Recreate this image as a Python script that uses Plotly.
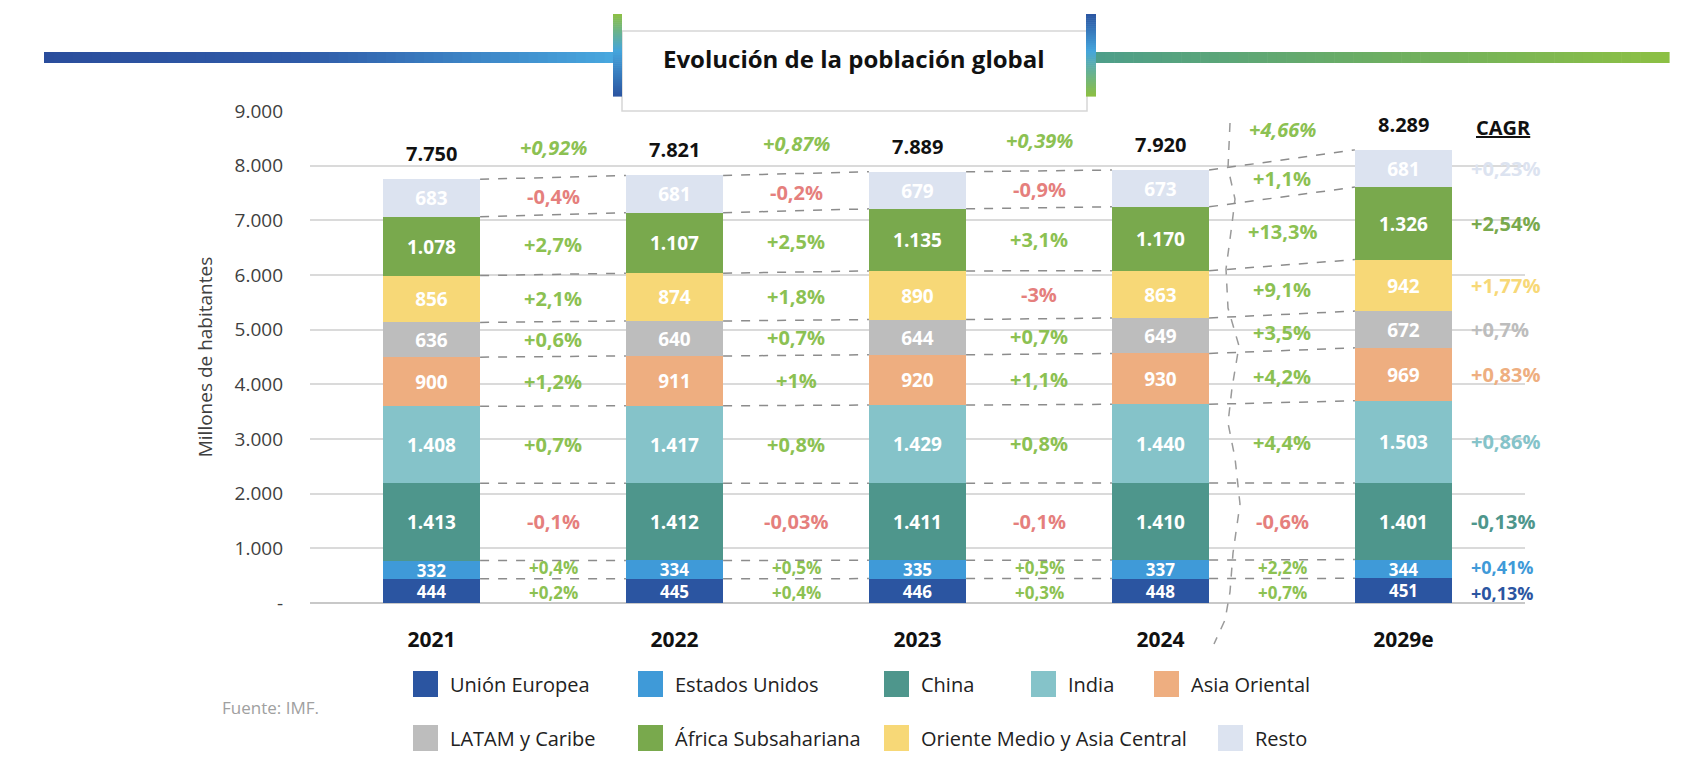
import plotly.graph_objects as go

# ---------------- DATA ----------------
years = ["2021", "2022", "2023", "2024", "2029e"]
series_names = ["Unión Europea", "Estados Unidos", "China", "India", "Asia Oriental",
                "LATAM y Caribe", "África Subsahariana", "Oriente Medio y Asia Central", "Resto"]
ue = [444, 445, 446, 448, 451]
eeuu = [332, 334, 335, 337, 344]
china = [1413, 1412, 1411, 1410, 1401]
india = [1408, 1417, 1429, 1440, 1503]
asia_oriental = [900, 911, 920, 930, 969]
latam = [636, 640, 644, 649, 672]
africa = [1078, 1107, 1135, 1170, 1326]
oriente_medio = [856, 874, 890, 863, 942]
resto = [683, 681, 679, 673, 681]

growth_ue = ["+0,2%", "+0,4%", "+0,3%", "+0,7%"]
growth_eeuu = ["+0,4%", "+0,5%", "+0,5%", "+2,2%"]
growth_china = ["-0,1%", "-0,03%", "-0,1%", "-0,6%"]
growth_india = ["+0,7%", "+0,8%", "+0,8%", "+4,4%"]
growth_asia = ["+1,2%", "+1%", "+1,1%", "+4,2%"]
growth_latam = ["+0,6%", "+0,7%", "+0,7%", "+3,5%"]
growth_africa = ["+2,7%", "+2,5%", "+3,1%", "+13,3%"]
growth_om = ["+2,1%", "+1,8%", "-3%", "+9,1%"]
growth_resto = ["-0,4%", "-0,2%", "-0,9%", "+1,1%"]
growth_total = ["+0,92%", "+0,87%", "+0,39%", "+4,66%"]
cagr_ue, cagr_eeuu, cagr_china, cagr_india = "+0,13%", "+0,41%", "-0,13%", "+0,86%"
cagr_asia, cagr_latam, cagr_africa, cagr_om, cagr_resto = "+0,83%", "+0,7%", "+2,54%", "+1,77%", "+0,23%"

y_tick_vals = [0, 1000, 2000, 3000, 4000, 5000, 6000, 7000, 8000, 9000]
y_tick_labels = ["-", "1.000", "2.000", "3.000", "4.000", "5.000", "6.000", "7.000", "8.000", "9.000"]

title_text = "Evolución de la población global"
y_title = "Millones de habitantes"
source_text = "Fuente: IMF."

# ---------------- STYLE ----------------
col_ue, col_eeuu, col_china, col_india = "#2b55a1", "#3f9ad8", "#4e968c", "#85c3c9"
col_asia, col_latam, col_africa, col_om, col_resto = "#eeae80", "#bdbdbd", "#79a94d", "#f7d877", "#dce3f0"
GREEN = "#8cc152"
RED = "#e57f7d"
FONT = "Open Sans"

# series in stacking order (bottom -> top): name, values, colour, growth, cagr
stack = [
    ("Unión Europea", ue, col_ue, growth_ue, cagr_ue),
    ("Estados Unidos", eeuu, col_eeuu, growth_eeuu, cagr_eeuu),
    ("China", china, col_china, growth_china, cagr_china),
    ("India", india, col_india, growth_india, cagr_india),
    ("Asia Oriental", asia_oriental, col_asia, growth_asia, cagr_asia),
    ("LATAM y Caribe", latam, col_latam, growth_latam, cagr_latam),
    ("Oriente Medio y Asia Central", oriente_medio, col_om, growth_om, cagr_om),
    ("África Subsahariana", africa, col_africa, growth_africa, cagr_africa),
    ("Resto", resto, col_resto, growth_resto, cagr_resto),
]
color_of = {name: c for name, _, c, _, _ in stack}
# thin bottom segments get a slightly smaller font and a small vertical nudge
small_size = {0: 17, 1: 17}
nudge = {0: -2, 1: 2}

W, H = 1706, 783
ML, MR, MT, MB = 302, 189, 103, 188
PW, PH = W - ML - MR, H - MT - MB
BAR_W = 0.4


def pxx(x):
    return (x - ML) / PW


def pxy(y):
    return (H - MB - y) / PH


n = len(years)
xs = list(range(n))

fig = go.Figure()

for s, (name, vals, col, _, _) in enumerate(stack):
    fig.add_trace(go.Bar(
        x=xs, y=vals, name=name, width=BAR_W,
        marker=dict(color=col, line=dict(width=0)),
        texttemplate="%{y:,.0f}", textposition="inside", insidetextanchor="middle",
        textangle=0, textfont=dict(color="white", size=small_size.get(s, 19), family=FONT, weight="bold"),
        showlegend=False, hovertemplate=name + ": %{y:,.0f}<extra></extra>",
    ))

cum = []
for j in range(n):
    c = [0]
    for _, vals, _, _, _ in stack:
        c.append(c[-1] + vals[j])
    cum.append(c)
totals = [c[-1] for c in cum]

for i in range(n - 1):
    lx, ly = [], []
    for k in range(1, len(stack) + 1):
        lx += [i + BAR_W / 2, i + 1 - BAR_W / 2, None]
        ly += [cum[i][k], cum[i + 1][k], None]
    fig.add_trace(go.Scatter(x=lx, y=ly, mode="lines",
                             line=dict(color="#8c8c8c", width=1.5, dash="dash"),
                             hoverinfo="skip", showlegend=False))

ann = []
for i, t in enumerate(totals):
    ann.append(dict(x=i, y=t, text="<b>" + f"{t:,}".replace(",", ".") + "</b>",
                    showarrow=False, yanchor="bottom", yshift=10,
                    font=dict(size=20, color="#111111", family=FONT)))

for s, (_, _, col, glist, _) in enumerate(stack):
    for i, g in enumerate(glist):
        m0 = (cum[i][s] + cum[i][s + 1]) / 2
        m1 = (cum[i + 1][s] + cum[i + 1][s + 1]) / 2
        ann.append(dict(x=i + 0.5, y=(m0 + m1) / 2, text="<b>" + g + "</b>", showarrow=False,
                        yshift=nudge.get(s, 0),
                        font=dict(size=small_size.get(s, 20) if s in small_size else 20,
                                  color=RED if g.startswith("-") else GREEN, family=FONT)))
for i, g in enumerate(growth_total):
    ann.append(dict(x=i + 0.5, y=(totals[i] + totals[i + 1]) / 2, text="<b><i>" + g + "</i></b>",
                    showarrow=False, yshift=30, font=dict(size=20, color=GREEN, family=FONT)))

ann.append(dict(x=n - 1 + 0.29, y=totals[-1], text="<b><u>CAGR</u></b>", showarrow=False,
                xanchor="left", yanchor="middle", yshift=22, font=dict(size=20, color="#111111", family=FONT)))
for s, (_, _, col, _, cg) in enumerate(stack):
    mid = (cum[-1][s] + cum[-1][s + 1]) / 2
    ann.append(dict(x=n - 1 + 0.27, y=mid, text="<b>" + cg + "</b>", showarrow=False,
                    xanchor="left", yanchor="middle", yshift=nudge.get(s, 0),
                    font=dict(size=18 if s in small_size else 20, color=col, family=FONT)))

ann.append(dict(xref="paper", yref="paper", x=pxx(846), y=pxy(50), xanchor="center", yanchor="middle",
                text="<b>" + title_text + "</b>", showarrow=False,
                font=dict(size=24, color="#111111", family=FONT)))
ann.append(dict(xref="paper", yref="paper", x=pxx(212), y=pxy(699), text=source_text,
                xanchor="left", yanchor="middle",
                showarrow=False, font=dict(size=17, color="#a0a0a0", family=FONT)))

# manual legend (original legend order)
legend_pos = [(405, 676), (630, 676), (876, 676), (1023, 676), (1146, 676),
              (405, 730), (630, 730), (876, 730), (1210, 730)]
shapes = []
for (lx0, ly0), name in zip(legend_pos, series_names):
    shapes.append(dict(type="rect", xref="paper", yref="paper",
                       x0=pxx(lx0), x1=pxx(lx0 + 25), y0=pxy(ly0 + 13), y1=pxy(ly0 - 13),
                       fillcolor=color_of[name], line=dict(width=0)))
    ann.append(dict(xref="paper", yref="paper", x=pxx(lx0 + 35), y=pxy(ly0), text=name,
                    xanchor="left", yanchor="middle", showarrow=False,
                    font=dict(size=20, color="#222222", family=FONT)))


def hex2rgb(h):
    h = h.lstrip("#")
    return tuple(int(h[i:i + 2], 16) for i in (0, 2, 4))


def interp(stops, t):
    for (p0, c0), (p1, c1) in zip(stops[:-1], stops[1:]):
        if p0 <= t <= p1:
            f = (t - p0) / (p1 - p0) if p1 > p0 else 0
            a, b = hex2rgb(c0), hex2rgb(c1)
            return "rgb(%d,%d,%d)" % tuple(round(a[k] + (b[k] - a[k]) * f) for k in range(3))
    return stops[-1][1]


def gradient(x0, x1, y0, y1, stops, horizontal=True, steps=60):
    out = []
    for k in range(steps):
        t0, t1 = k / steps, (k + 1) / steps
        col = interp(stops, (t0 + t1) / 2)
        if horizontal:
            a, b = x0 + (x1 - x0) * t0, x0 + (x1 - x0) * t1 + 0.6
            out.append(dict(type="rect", xref="paper", yref="paper", x0=pxx(a), x1=pxx(b),
                            y0=pxy(y1), y1=pxy(y0), fillcolor=col, line=dict(width=0)))
        else:
            a, b = y0 + (y1 - y0) * t0, y0 + (y1 - y0) * t1 + 0.6
            out.append(dict(type="rect", xref="paper", yref="paper", x0=pxx(x0), x1=pxx(x1),
                            y0=pxy(b), y1=pxy(a), fillcolor=col, line=dict(width=0)))
    return out


shapes.append(dict(type="rect", xref="paper", yref="paper", x0=pxx(614), x1=pxx(1079),
                   y0=pxy(103), y1=pxy(23), fillcolor="white", line=dict(color="#d6d6d6", width=1.5)))
shapes += gradient(36, 606, 44, 55, [(0, "#2a4d9c"), (0.45, "#2f5aa7"), (1, "#48a8df")])
shapes += gradient(1087, 1661, 44, 55, [(0, "#4d9e8a"), (0.5, "#6dae62"), (1, "#8dc043")])
shapes += gradient(605, 614, 6, 88, [(0, "#8dc043"), (0.45, "#45a5dc"), (1, "#2b55a1")], horizontal=False, steps=40)
shapes += gradient(1078, 1088, 6, 88, [(0, "#2b55a1"), (0.45, "#45a5dc"), (1, "#8dc043")], horizontal=False, steps=40)

wave = [(1222, 115), (1220, 160), (1227, 191), (1224, 216), (1218, 261), (1220, 300), (1231, 338),
        (1224, 380), (1220, 415), (1227, 450), (1232, 496), (1225, 545), (1222, 584), (1217, 612), (1206, 636)]
path = "M" + " L".join("%f,%f" % (pxx(a), pxy(b)) for a, b in wave)
shapes.append(dict(type="path", xref="paper", yref="paper", path=path,
                   line=dict(color="#9a9a9a", width=1.5, dash="dash")))

fig.update_layout(
    width=W, height=H, autosize=False,
    margin=dict(l=ML, r=MR, t=MT, b=MB, pad=0),
    plot_bgcolor="white", paper_bgcolor="white",
    barmode="stack", bargap=0, separators=",.",
    showlegend=False,
    uniformtext=dict(minsize=17, mode="show"),
    font=dict(family=FONT, color="#404040"),
    annotations=ann, shapes=shapes,
    xaxis=dict(range=[-0.5, n - 0.5], tickvals=xs, ticktext=years, showgrid=False, zeroline=False,
               ticks="", ticklabelstandoff=22,
               tickfont=dict(size=21, color="#111111", family=FONT, weight="bold")),
    yaxis=dict(range=[0, 9000], tickvals=y_tick_vals, ticktext=y_tick_labels, showgrid=True,
               gridcolor="#dadada", gridwidth=1.5, zeroline=True, zerolinecolor="#c8c8c8",
               zerolinewidth=2, ticks="", ticklabelstandoff=26,
               tickfont=dict(size=19, color="#404040", family=FONT),
               title=dict(text=y_title, standoff=16, font=dict(size=19, color="#404040", family=FONT))),
)

fig.write_html("out.html")
